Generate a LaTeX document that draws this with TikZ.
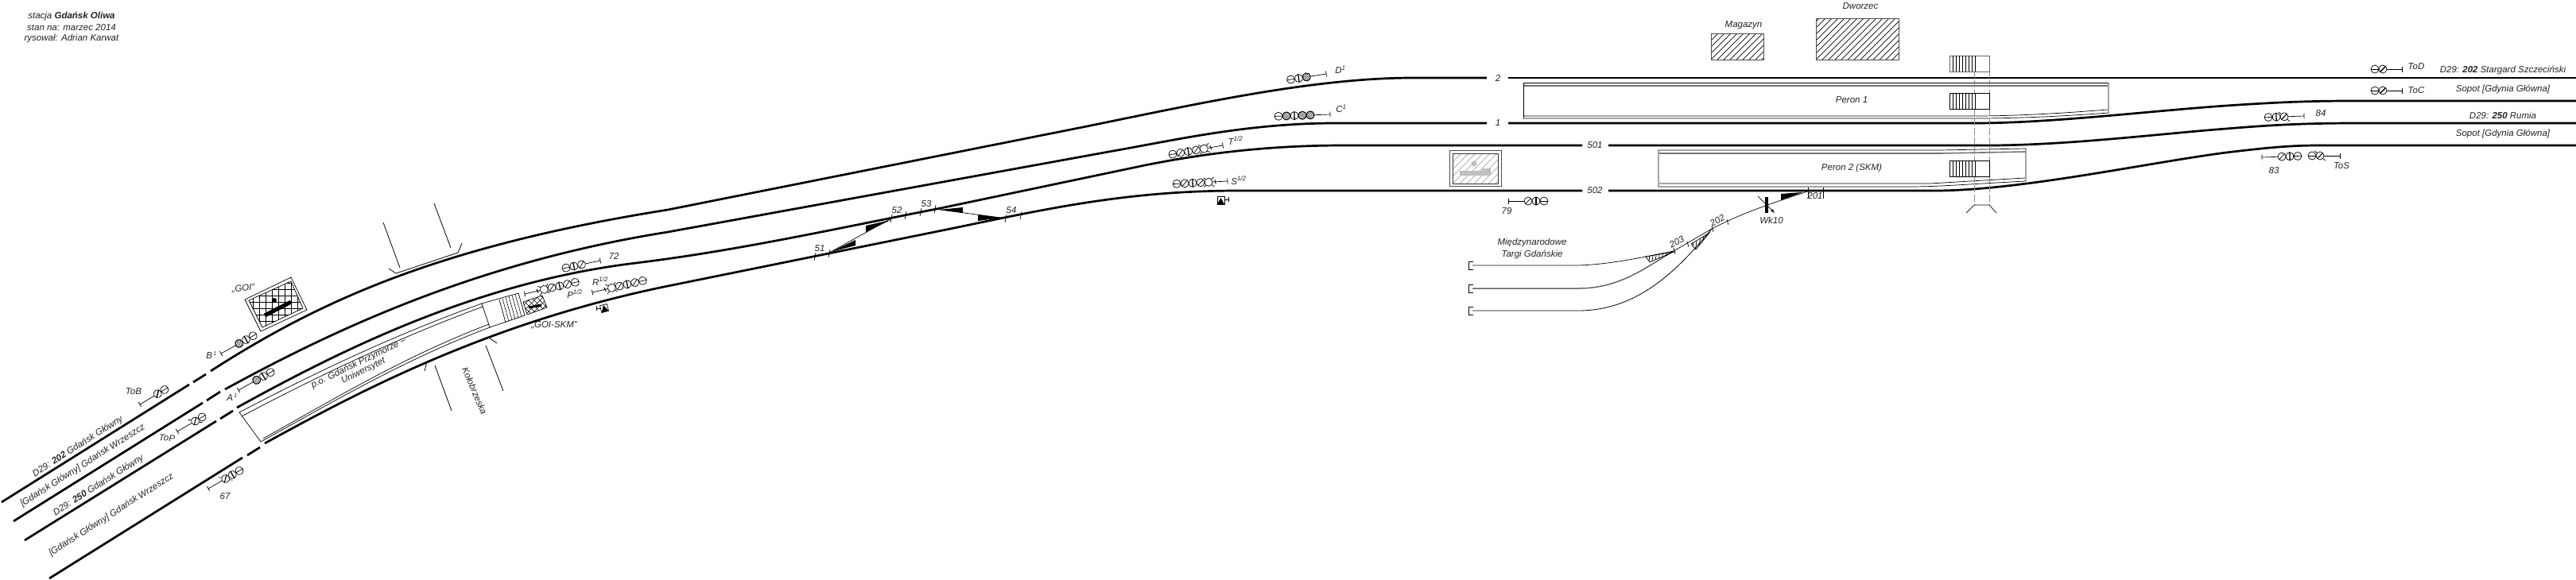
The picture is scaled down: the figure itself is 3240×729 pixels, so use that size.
\documentclass[tikz,border=0pt]{standalone}
\usepackage{fontspec}
\setmainfont{Liberation Sans}
\usetikzlibrary{calc}
\definecolor{txt}{HTML}{222222}
\tikzset{
 x=1pt,y=-1pt,
 trk/.style={line width=2.7pt,line cap=butt,black},
 thin1/.style={line width=0.7pt,black},
 plat/.style={line width=0.7pt,black},
 lab/.style={font=\fontsize{11.5}{13}\selectfont\itshape,text=txt,inner sep=0pt,align=center},
 road/.style={line width=0.8pt,black},
}
\newcommand{\sghead}[2]{%
 \begin{scope}[shift={(#1,0)}]
 \draw[fill=white] (0,0) circle (5);
 \if#2h\draw (-5,0)--(5,0);\fi
 \if#2v\draw[line width=1.3pt] (0,-5)--(0,5);\fi
 \if#2s\draw (-3.5,3.5)--(3.5,-3.5);\fi
 \if#2S\draw[line width=1.4pt] (-3.5,3.5)--(3.5,-3.5);\fi
 \if#2H\begin{scope}\clip (0,0) circle (5);\foreach \d in {-6,-3.5,-1,1.5,4,6.5}{\draw[line width=0.45pt] (-6+\d,6)--(6+\d,-6);}\end{scope}\draw (0,0) circle (5);\fi
 \if#2t\draw[line width=1.1pt] (-3.5,3.5)--(3.5,-3.5);\draw (-3.5,-3.5)--(-7,-6);\draw (3.5,3.5)--(7,6);\fi
 \if#2o\draw (-3.5,-3.5)--(-7,-6);\draw (-3.5,3.5)--(-7,6);\draw (3.5,-3.5)--(6,-6);\draw (3.5,3.5)--(6,6);\draw[line width=1pt] (-9,-2.5)--(-8,2.5);\fi
 \end{scope}}
% signal: x,y,angle,stem,typelist  (h,v,s,S,H,t,o)
\newcommand{\sgn}[5]{%
 \begin{scope}[shift={(#1,#2)},rotate=#3,line width=0.7pt]
  \draw (0,-3.5) -- (0,3.5);
  \draw (0,0) -- ({#4-5},0);
  \foreach \t [count=\n from 0] in {#5}{%
   \pgfmathsetmacro{\cx}{#4+\n*10}%
   \sghead{\cx}{\t}%
  }
 \end{scope}}
% hatch: x1,y1,x2,y2,spacing,colour
\newcommand{\hatchrect}[6]{%
 \begin{scope}
  \clip (#1,#2) rectangle (#3,#4);
  \foreach \k in {-10,...,20}{\draw[line width=0.7pt,#6] ({#1+\k*#5},#4)--({#1+\k*#5+#4-#2},#2);}
 \end{scope}}
\begin{document}
\begin{tikzpicture}
\useasboundingbox (0,0) rectangle (3240,729);
% ---- header
\node[lab] (h1) at (90,20) {stacja \textbf{Gdańsk Oliwa}};
\node[lab] (h2) at (90,35) {stan na: marzec 2014};
\node[lab] (h3) at (90,49) {rysował: Adrian Karwat};
% ---- tracks
\draw[trk] (2,632) -- (238,484);
\draw[trk] (243,481) -- (259,471);
\draw[trk] (265,467) .. controls (400,380) and (550,310) .. (840,264) -- (1362,160) .. controls (1500,132) and (1650,98) .. (1777,98) -- (1870,98);
\draw[trk] (1897,98) -- (3240,98);
\draw[trk] (17,656) -- (255,507);
\draw[trk] (260,504) -- (277,493);
\draw[trk] (283,490) .. controls (420,415) and (600,330) .. (840,292) -- (1400,190) .. controls (1480,176) and (1570,155) .. (1680,155) -- (1870,155);
\draw[trk] (1897,155) -- (2483,155) .. controls (2580,155) and (2700,140) .. (2800,133) .. controls (2860,129) and (2900,127) .. (2960,127) -- (3240,127);
\draw[trk] (31,680) -- (272,530);
\draw[trk] (277,527) -- (293,517);
\draw[trk] (298,513) .. controls (430,440) and (600,355) .. (800,331) .. controls (930,315) and (1050,288) .. (1183,262) -- (1440,208) .. controls (1520,192) and (1600,183) .. (1690,183) -- (1990,183);
\draw[trk] (2023,183) -- (2500,183) .. controls (2600,183) and (2720,168) .. (2800,162) .. controls (2860,157) and (2900,155) .. (2967,155) -- (3240,155);
\draw[trk] (62,728) -- (305,576);
\draw[trk] (311,573) -- (327,563);
\draw[trk] (333,558) .. controls (460,488) and (620,405) .. (840,360) -- (1200,287) .. controls (1320,262) and (1420,240) .. (1558,240) -- (1990,240);
\draw[trk] (2023,240) -- (2433,240) .. controls (2540,240) and (2700,205) .. (2800,192) .. controls (2850,186) and (2880,183) .. (2917,183) -- (3240,183);
% ---- track labels
\node[lab] (t2) at (1884,98) {2};
\node[lab] (t1) at (1884,155) {1};
\node[lab] (t501) at (2006,183) {501};
\node[lab] (t502) at (2006,240) {502};
% ---- left direction labels
\node[lab,rotate=32.5] (l1) at (98,562) {D29: \textbf{202} Gdańsk Główny};
\node[lab,rotate=32.5] (l2) at (104,586) {[Gdańsk Główny] Gdańsk Wrzeszcz};
\node[lab,rotate=32.5] (l3) at (124,611) {D29: \textbf{250} Gdańsk Główny};
\node[lab,rotate=32.5] (l4) at (140,648) {[Gdańsk Główny] Gdańsk Wrzeszcz};
% ---- right direction labels
\node[lab] (r1) at (3148,88) {D29: \textbf{202} Stargard Szczeciński};
\node[lab] (r2) at (3148,112) {Sopot [Gdynia Główna]};
\node[lab] (r3) at (3148,145) {D29: \textbf{250} Rumia};
\node[lab] (r4) at (3148,168) {Sopot [Gdynia Główna]};
% ---- signals
\sgn{176}{509}{31}{26}{S,h}
\sgn{278}{445}{29}{26}{H,v,h}
\sgn{300}{491}{29}{26}{H,v,h}
\sgn{223}{543}{30}{26}{t,h}
\sgn{262}{615}{30}{25}{t,v,h}
\sgn{755}{328}{192}{24}{s,v,h}
\sgn{660}{370}{13}{25}{o,s,v,s,h}
\sgn{745}{368}{13}{25}{o,s,v,s,h}
\sgn{1538}{183}{190}{24}{o,s,v,s,h}
\sgn{1544}{228}{183}{24}{o,s,v,s,h}
\sgn{1668}{93}{189}{25}{H,v,h}
\sgn{1673}{144}{182}{25}{H,H,v,H,h}
\sgn{1897}{253}{0}{25}{s,v,h}
\sgn{3021}{87}{180}{24}{S,h}
\sgn{3021}{114}{180}{24}{S,h}
\sgn{2898}{146}{182}{25}{t,v,h}
\sgn{2845}{198}{2}{25}{s,v,h}
\sgn{2943}{196}{180}{25}{t,h}
% ---- signal labels
\node[lab] (nToB) at (168,493) {ToB};
\node[lab] (nB) at (266,447) {B\textsuperscript{\,\fontsize{7}{8}\selectfont 1}};
\node[lab] (nA) at (292,500) {A\textsuperscript{\,\fontsize{7}{8}\selectfont 1}};
\node[lab,rotate=-5] (nToP) at (210,551) {ToP};
\node[lab] (n67) at (283,625) {67};
\node[lab,rotate=5] (nGOI) at (306,363) {„GOI”};
\node[lab] (n72) at (772,322) {72};
\node[lab] (nP) at (723,370) {P\textsuperscript{1/2}};
\node[lab] (nR) at (755,354) {R\textsuperscript{1/2}};
\node[lab] (nGS) at (697,409) {„GOI-SKM”};
\node[lab] (nT) at (1554,177) {T\textsuperscript{1/2}};
\node[lab] (nS) at (1558,227) {S\textsuperscript{1/2}};
\node[lab] (nD) at (1686,88) {D\textsuperscript{1}};
\node[lab] (nC) at (1687,137) {C\textsuperscript{1}};
\node[lab] (n79) at (1895,266) {79};
\node[lab] (nToD) at (3039,84) {ToD};
\node[lab] (nToC) at (3039,114) {ToC};
\node[lab] (n84) at (2919,143) {84};
\node[lab] (n83) at (2860,215) {83};
\node[lab] (nToS) at (2945,209) {ToS};
% ---- GOI box
\draw[thin1] (308,377)--(366,349)--(386,390)--(328,417)--cycle;
\begin{scope}
 \clip (313,378)--(366,354)--(381,388)--(330,412)--cycle;
 \foreach \a in {310,318,...,390} \draw[thin1] (\a,345)--(\a,420);
 \foreach \b in {348,356,...,420} \draw[thin1] (305,\b)--(390,\b);
\end{scope}
\draw[thin1] (313,378)--(366,354)--(381,388)--(330,412)--cycle;
\draw[line width=5pt] (333,397)--(366,380);
\fill (345,378) circle (3);
% ---- bridge
\draw[road] (482,280)--(503,337);
\draw[road] (546,256)--(567,312);
\draw[road] (489,338)--(498,344)--(576,318)--(581,306);
\draw[road] (534,467)--(537,455)--(615,425)--(625,432);
\draw[road] (547,460)--(568,517);
\draw[road] (611,435)--(633,492);
\node[lab,rotate=-67] (nKol) at (597,492) {Kołobrzeska};
% ---- platform Przymorze
\draw[plat] (328,556)--(301,519) .. controls (400,467) and (500,420) .. (606,382) -- (616,412) .. controls (510,452) and (420,505) .. (328,556);
\draw[plat] (304,524) .. controls (402,472) and (502,425) .. (607,386);
\draw[plat] (331,552) .. controls (422,501) and (508,449) .. (615,408);
\draw[plat] (606,382)--(652,369)--(660,397)--(616,412);
\draw[plat] (628,377)--(636,406);
\foreach \i in {1,2,3,4,5}{\draw[line width=0.55pt] ($(628,377)!\i/6!(652,369)$)--($(636,406)!\i/6!(660,397)$);}
\node[lab,rotate=26] (pPrz1) at (451,457) {p.o. Gdańsk Przymorze –};
\node[lab,rotate=26] (pPrz2) at (457,467) {Uniwersytet};
% ---- GOI-SKM box
\begin{scope}
 \clip (658,380)--(682,372)--(688,387)--(663,396)--cycle;
 \foreach \k in {-4,...,8}{\draw[line width=0.6pt] ({650+\k*7},400)--({680+\k*7},370);
   \draw[line width=0.6pt] ({650+\k*7},370)--({680+\k*7},400);}
\end{scope}
\draw[thin1] (658,380)--(682,372)--(688,387)--(663,396)--cycle;
\draw[line width=3pt] (665,387)--(681,384);
\draw[thin1] (750,385)--(750,391) (750,388)--(755,388);
\draw[thin1,rotate around={15:(760,388)}] (755.5,383.5) rectangle (764.5,392.5);
\fill[rotate around={15:(760,388)}] (755.5,392.5)--(760,384)--(764.5,392.5)--cycle;
% S signal
\draw[thin1] (1545,248)--(1545,254) (1545,251)--(1540,251);
\draw[thin1] (1531,247) rectangle (1540,257);
\fill (1531,257)--(1535.5,249)--(1540,257)--cycle;
% ---- crossovers
\foreach \p/\q in {1025/323,1043/319,1121/275,1139/271,1158/267,1176/263,1265/275,1284/271}{
 \draw[thin1] ({\p+1},{\q-5})--({\p-1},{\q+5});}
\draw[thin1] (1043,318)--(1121,275);
\draw[thin1] (1176,263)--(1265,275);
\fill (1045,317)--(1076,302)--(1076,309)--cycle;
\fill (1120,277)--(1089,284)--(1089,292)--cycle;
\fill (1181,264)--(1211,261)--(1211,268)--cycle;
\fill (1260,274)--(1230,270)--(1230,278)--cycle;
\node[lab] (s51) at (1031,313) {51};
\node[lab] (s52) at (1128,265) {52};
\node[lab] (s53) at (1165,257) {53};
\node[lab] (s54) at (1272,265) {54};
% ---- grey signal box
\draw[line width=0.9pt,black!70] (1823,189) rectangle (1888,234);
\hatchrect{1827}{193}{1884}{231}{9}{black!35}
\draw[line width=0.9pt,black!80] (1827,193) rectangle (1884,231);
\fill[black!25] (1836,215) rectangle (1875,221) (1864,212) rectangle (1875,215);
\fill[black!25] (1854,206) circle (3.5);
% ---- platform 1
\draw[plat] (1916,149)--(1916,104)--(2652,104);
\draw[line width=1.6pt,black!55] (1917,108)--(2651,108);
\draw[plat] (1916,149)--(2483,149) .. controls (2540,149) and (2600,146) .. (2652,142) -- (2652,104);
\draw[plat] (1917,146)--(2483,146) .. controls (2540,146) and (2600,142) .. (2651,138);
% ---- platform 2
\draw[plat] (2086,235)--(2086,189)--(2440,189)--(2548,187)--(2548,228) .. controls (2470,232) and (2440,235) .. (2400,235)--cycle;
\draw[line width=1.6pt,black!55] (2087,193)--(2440,193)--(2547,191);
\draw[plat] (2087,231)--(2427,231)--(2547,224);
\node[lab] (pp1) at (2329,126) {Peron 1};
\node[lab] (pp2) at (2329,212) {Peron 2 (SKM)};
% ---- stairs
\draw[line width=0.6pt,dash pattern=on 9pt off 3pt,black!45] (2483,89)--(2483,258) (2502,89)--(2502,258);
\draw[plat] (2473,268)--(2483,258)--(2502,258)--(2511,268);
\foreach \sy/\col in {70/black!60,117/black,202/black}{
 \fill[white] (2452,\sy) rectangle (2502,{\sy+20});
 \draw[line width=0.8pt,draw=\col] (2452,\sy) rectangle (2502,{\sy+20});
 \foreach \st in {2456,2460,...,2484} \draw[line width=0.6pt] (\st,\sy)--(\st,{\sy+20});
}
% ---- buildings
\hatchrect{2152}{42}{2218}{75}{8}{black}
\draw[line width=1pt,black!70] (2152,42) rectangle (2218,75);
\hatchrect{2284}{23}{2388}{75}{8}{black}
\draw[line width=1pt,black!70] (2284,23) rectangle (2388,75);
\node[lab] (bM) at (2193,32) {Magazyn};
\node[lab] (bD) at (2340,8) {Dworzec};
% ---- siding
\draw[thin1] (2273,241) .. controls (2235,254) and (2195,266) .. (2153,288) -- (2105,316) .. controls (2070,323) and (2020,334) .. (1980,334) -- (1852,334);
\draw[line width=1.5pt,black!60] (2095,322) .. controls (2060,344) and (2030,363) .. (1985,363) -- (1852,363);
\draw[line width=1.1pt] (2105,316) -- (2095,322);
\draw[line width=0.8pt] (2153,288) .. controls (2110,340) and (2060,391) .. (1985,391) -- (1852,391);
\foreach \by in {334,363,391}{\draw[line width=1pt] (1853,{\by-5})--(1847,{\by-5})--(1847,{\by+5})--(1853,{\by+5});}
\fill (2240,244)--(2267,242)--(2240,252)--cycle;
\draw[thin1] (2274,236)--(2274,250) (2293,236)--(2293,250);
\node[lab] (s201) at (2283,247) {201};
\draw[line width=4pt] (2222,248)--(2222,268);
\draw[thin1,-latex] (2211,247)--(2232,268);
\node[lab] (nWk) at (2228,277) {Wk10};
\draw[thin1] (2105,312)--(2107,320) (2122,304)--(2124,311);
\draw[thin1] (2153,285)--(2155,292) (2172,276)--(2174,283);
\node[lab,rotate=28] (s203) at (2109,304) {203};
\node[lab,rotate=28] (s202) at (2160,277) {202};
\begin{scope}
 \clip (2105,317)--(2070,323)--(2075,330)--cycle;
 \foreach \k in {0,...,12}{\draw[line width=0.7pt] ({2065+\k*4},335)--({2068+\k*4},315);}
\end{scope}
\draw[thin1] (2105,317)--(2070,323)--(2075,330)--cycle;
\begin{scope}
 \clip (2150,293)--(2127,307)--(2133,314)--cycle;
 \foreach \k in {0,...,12}{\draw[line width=0.7pt] ({2120+\k*4},318)--({2124+\k*4},288);}
\end{scope}
\draw[thin1] (2150,293)--(2127,307)--(2133,314)--cycle;
\node[lab] (nM1) at (1927,306) {Międzynarodowe};
\node[lab] (nM2) at (1927,320) {Targi Gdańskie};
\end{tikzpicture}
\end{document}
